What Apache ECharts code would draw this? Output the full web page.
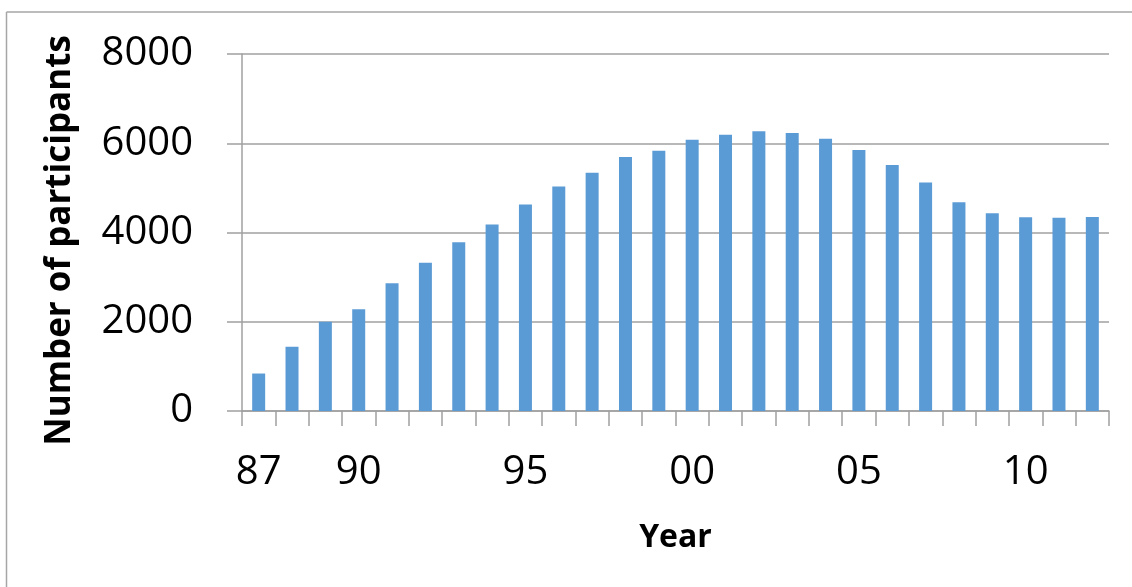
<!DOCTYPE html>
<html>
<head>
<meta charset="utf-8">
<script src="https://cdn.jsdelivr.net/npm/echarts@6/dist/echarts.min.js"></script>
<style>
  html, body { margin: 0; padding: 0; background: #ffffff; }
  #chart { width: 1132px; height: 587px; }
</style>
</head>
<body>
<div id="chart"></div>
<script>
const years = ['87','88','89','90','91','92','93','94','95','96','97','98','99',
               '00','01','02','03','04','05','06','07','08','09','10','11','12'];
const shownLabels = ['87','90','95','00','05','10'];
const participants = [840, 1440, 2000, 2280, 2860, 3320, 3780, 4180, 4630, 5030, 5340, 5690, 5830,
                      6080, 6190, 6270, 6230, 6100, 5850, 5510, 5120, 4680, 4430, 4340, 4330, 4350];
const yTicks = { min: 0, max: 8000, interval: 2000 };

const chart = echarts.init(document.getElementById('chart'), null, { renderer: 'canvas' });
const font = '"Open Sans", "Liberation Sans", sans-serif';
chart.setOption({
  animation: false,
  backgroundColor: '#ffffff',
  grid: { left: 242, right: 23, top: 54, bottom: 176, containLabel: false },
  graphic: [
    { type: 'line', shape: { x1: 6.5, y1: 12, x2: 1132, y2: 12 }, style: { stroke: '#a6a6a6', lineWidth: 1.5 } },
    { type: 'line', shape: { x1: 6.5, y1: 12, x2: 6.5, y2: 587 }, style: { stroke: '#a6a6a6', lineWidth: 1.5 } }
  ],
  xAxis: {
    type: 'category',
    data: years,
    name: 'Year',
    nameLocation: 'middle',
    nameGap: 111,
    nameTextStyle: { fontFamily: font, fontWeight: 'bold', fontSize: 32, color: '#000' },
    axisLine: { show: true, lineStyle: { color: '#a0a0a0', width: 1.5 } },
    axisTick: { show: true, interval: 0, alignWithLabel: false, length: 15, lineStyle: { color: '#a0a0a0', width: 1.5 } },
    axisLabel: {
      interval: 0,
      formatter: function (v) { return shownLabels.indexOf(v) >= 0 ? v : ''; },
      fontFamily: font, fontSize: 40, color: '#000', margin: 42
    }
  },
  yAxis: {
    type: 'value',
    min: yTicks.min, max: yTicks.max, interval: yTicks.interval,
    name: 'Number of participants',
    nameLocation: 'middle',
    nameGap: 164,
    nameRotate: 90,
    nameTextStyle: { fontFamily: font, fontWeight: 'bold', fontSize: 35, color: '#000', padding: [0, 16, 0, 0] },
    axisLine: { show: true, lineStyle: { color: '#a0a0a0', width: 1.5 } },
    axisTick: { show: true, length: 15, lineStyle: { color: '#a0a0a0', width: 1.5 } },
    splitLine: { show: true, lineStyle: { color: '#a0a0a0', width: 1.5 } },
    axisLabel: {
      fontFamily: font, fontSize: 40, color: '#000', margin: 49,
      formatter: function (v) { return String(v); }
    }
  },
  series: [{
    type: 'bar',
    data: participants,
    barWidth: 13,
    itemStyle: { color: '#5b9bd5' }
  }]
});
</script>
</body>
</html>
